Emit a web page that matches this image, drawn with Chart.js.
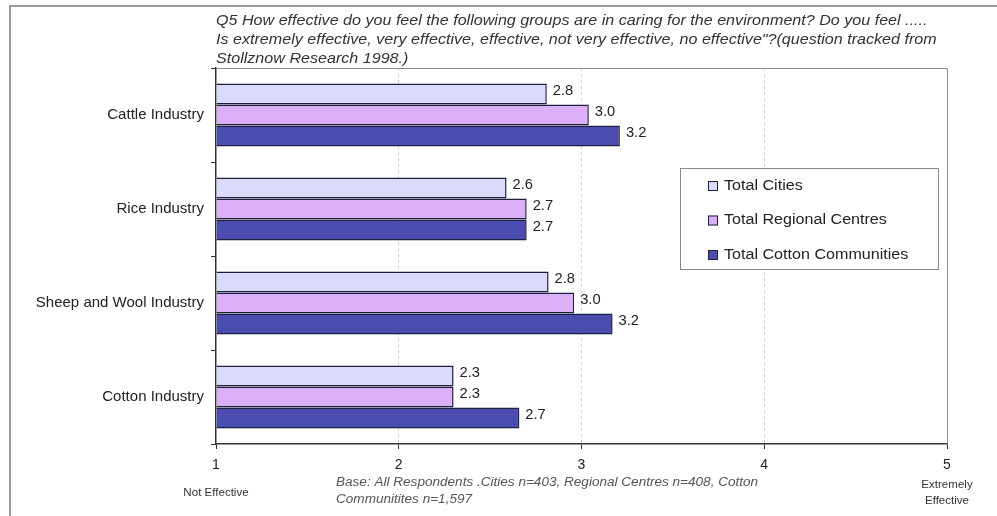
<!DOCTYPE html>
<html>
<head>
<meta charset="utf-8">
<script src="https://cdn.jsdelivr.net/npm/chart.js@4.4.0/dist/chart.umd.min.js"></script>
<style>
  html, body { margin: 0; padding: 0; background: #fff; }
  #wrap { width: 997px; height: 516px; position: relative; }
</style>
</head>
<body>
<div id="wrap"><canvas id="effectChart" width="997" height="516"></canvas></div>
<script>
  const categories = ['Cattle Industry', 'Rice Industry', 'Sheep and Wool Industry', 'Cotton Industry'];
  const seriesNames = ['Total Cities', 'Total Regional Centres', 'Total Cotton Communities'];
  const totalCities = [2.81, 2.59, 2.82, 2.30];
  const totalRegionalCentres = [3.04, 2.70, 2.96, 2.30];
  const totalCottonCommunities = [3.21, 2.70, 3.17, 2.66];
  const scaleTicks = [1, 2, 3, 4, 5];

  const titleLines = [
    'Q5 How effective do you feel the following groups are in caring for the environment? Do you feel .....',
    'Is extremely effective, very effective, effective, not very effective, no effective"?(question tracked from',
    'Stollznow Research 1998.)'
  ];
  const footLines = [
    'Base: All Respondents .Cities n=403, Regional Centres n=408, Cotton',
    'Communitites n=1,597'
  ];

  const FONT = '"Liberation Sans", Arial, sans-serif';
  const colors = ['#dadafa', '#dcb0f8', '#4a4cb0'];
  const edge = '#1e1e40';
  const STRETCH = 1.15; // the source text is a bit wider than plain Arial

  // draws text squeezed/stretched horizontally around its anchor
  function wideText(ctx, text, x, y, sx) {
    ctx.save();
    ctx.translate(x, y);
    ctx.scale(sx, 1);
    ctx.fillText(text, 0, 0);
    ctx.restore();
  }

  // frame, title, footnote, value labels and the legend box
  const decorations = {
    id: 'decorations',
    beforeDraw(chart) {
      const ctx = chart.ctx;
      ctx.save();
      ctx.strokeStyle = '#9a9a9a';
      ctx.lineWidth = 2;
      ctx.beginPath();
      ctx.moveTo(10, 517);
      ctx.lineTo(10, 6);
      ctx.lineTo(997, 6);
      ctx.stroke();
      ctx.restore();
    },
    afterDraw(chart) {
      const ctx = chart.ctx;
      const area = chart.chartArea;
      ctx.save();

      // plot frame top + right
      ctx.strokeStyle = '#8c8c8c';
      ctx.lineWidth = 1;
      ctx.beginPath();
      ctx.moveTo(area.left, area.top + 0.5);
      ctx.lineTo(area.right + 0.5, area.top + 0.5);
      ctx.lineTo(area.right + 0.5, area.bottom);
      ctx.stroke();

      ctx.fillStyle = '#333';
      ctx.font = 'italic 14px ' + FONT;
      ctx.textBaseline = 'middle';
      ctx.textAlign = 'left';
      titleLines.forEach((line, i) => wideText(ctx, line, 216, 21 + i * 19, STRETCH));

      ctx.fillStyle = '#555';
      ctx.font = 'italic 12px ' + FONT;
      footLines.forEach((line, i) => wideText(ctx, line, 336, 483 + i * 17, 1.13));

      const xs = chart.scales.x;
      ctx.fillStyle = '#333';
      ctx.font = '11px ' + FONT;
      ctx.textAlign = 'center';
      wideText(ctx, 'Not Effective', xs.getPixelForValue(1), 493, 1.05);
      wideText(ctx, 'Extremely', xs.getPixelForValue(5), 485, 1.05);
      wideText(ctx, 'Effective', xs.getPixelForValue(5), 501, 1.05);

      // value labels
      ctx.font = '14px ' + FONT;
      ctx.textAlign = 'left';
      ctx.fillStyle = '#222';
      chart.data.datasets.forEach((ds, di) => {
        chart.getDatasetMeta(di).data.forEach((bar, i) => {
          wideText(ctx, ds.data[i].toFixed(1), bar.x + 6, bar.y - 3, 1.05);
        });
      });

      // legend
      ctx.fillStyle = '#fff';
      ctx.fillRect(680, 168, 258, 101);
      ctx.strokeStyle = '#888';
      ctx.strokeRect(680.5, 168.5, 258, 101);
      ctx.font = '14px ' + FONT;
      chart.data.datasets.forEach((ds, i) => {
        const y = 186 + i * 34.5;
        ctx.fillStyle = ds.backgroundColor;
        ctx.fillRect(708, y - 5, 10, 10);
        ctx.strokeStyle = edge;
        ctx.strokeRect(708.5, y - 4.5, 9, 9);
        ctx.fillStyle = '#222';
        wideText(ctx, ds.label, 724, y, STRETCH);
      });
      ctx.restore();
    }
  };

  const makeSet = (label, values, color) => ({
    label: label,
    data: values,
    base: 1,
    backgroundColor: color,
    borderColor: edge,
    borderWidth: 1.5,
    borderSkipped: 'start',
    categoryPercentage: 0.67,
    barPercentage: 1.0
  });

  new Chart(document.getElementById('effectChart'), {
    type: 'bar',
    data: {
      labels: categories,
      datasets: [
        makeSet(seriesNames[0], totalCities, colors[0]),
        makeSet(seriesNames[1], totalRegionalCentres, colors[1]),
        makeSet(seriesNames[2], totalCottonCommunities, colors[2])
      ]
    },
    options: {
      indexAxis: 'y',
      responsive: false,
      animation: false,
      layout: { padding: { top: 68, right: 50, bottom: 0, left: 0 } },
      plugins: {
        legend: { display: false },
        tooltip: { enabled: false }
      },
      scales: {
        x: {
          min: scaleTicks[0],
          max: scaleTicks[scaleTicks.length - 1],
          afterBuildTicks: (scale) => { scale.ticks = scaleTicks.map(v => ({ value: v })); },
          afterFit: (scale) => { scale.height = 72; },
          grid: {
            color: (c) => (c.tick && (c.tick.value === 1 || c.tick.value === 5)) ? 'rgba(0,0,0,0)' : '#cfcfcf',
            tickColor: '#333',
            tickLength: 5,
            lineWidth: 1
          },
          border: { color: '#333', width: 1.5, dash: [3, 3] },
          ticks: {
            color: '#222',
            padding: 8,
            font: { family: FONT, size: 14 },
            maxRotation: 0
          }
        },
        y: {
          afterFit: (scale) => { scale.width = 216; },
          grid: {
            offset: true,
            drawOnChartArea: false,
            tickColor: '#333',
            tickLength: 5
          },
          border: { color: '#333', width: 1.5 },
          ticks: {
            color: '#222',
            padding: 7,
            font: { family: FONT, size: 15 }
          }
        }
      }
    },
    plugins: [decorations]
  });
</script>
</body>
</html>
